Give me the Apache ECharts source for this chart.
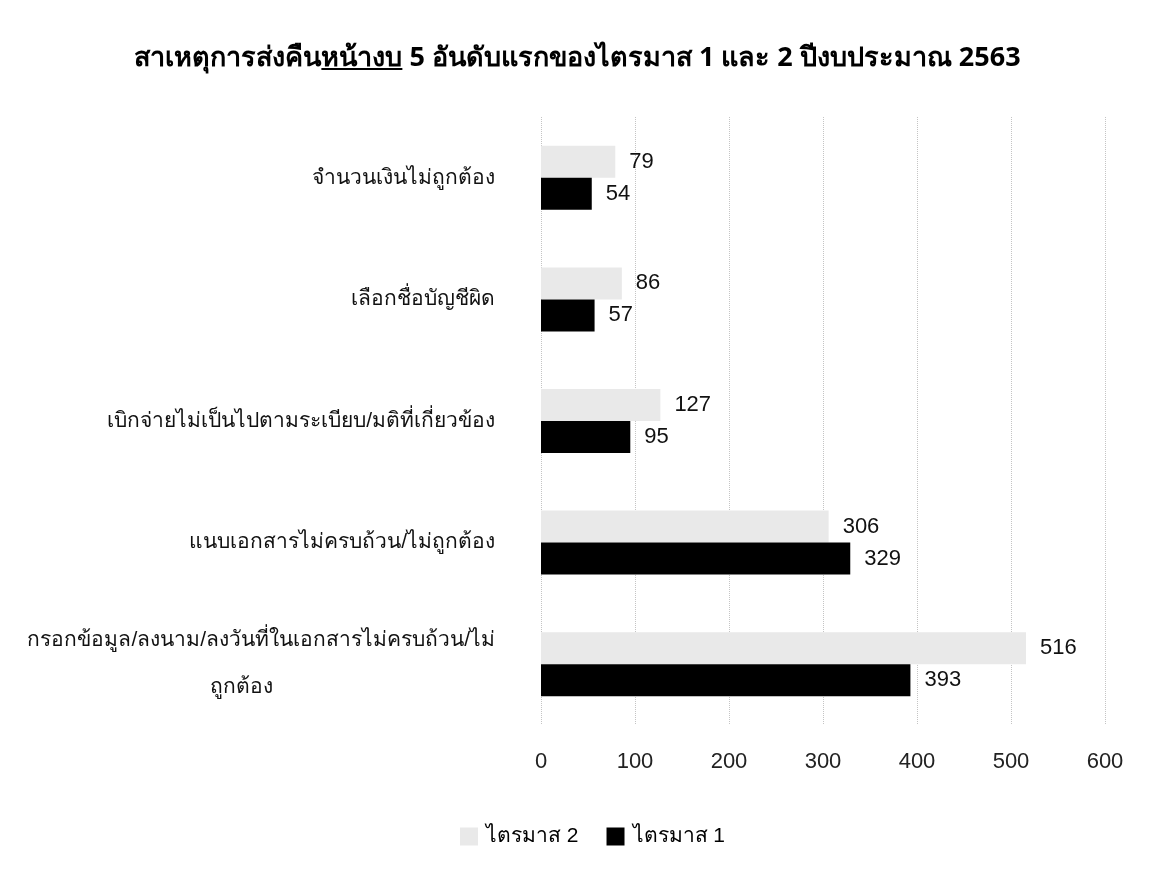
<!DOCTYPE html>
<html>
<head>
<meta charset="utf-8">
<script src="https://cdn.jsdelivr.net/npm/echarts@6/dist/echarts.min.js"></script>
<style>
  html, body { margin: 0; padding: 0; background: #fff; }
  #chart { width: 1155px; height: 874px; }
</style>
</head>
<body>
<div id="chart"></div>
<script>
// ข้อมูลจากภาพ
const categories = [
  'จำนวนเงินไม่ถูกต้อง',
  'เลือกชื่อบัญชีผิด',
  'เบิกจ่ายไม่เป็นไปตามระเบียบ/มติที่เกี่ยวข้อง',
  'แนบเอกสารไม่ครบถ้วน/ไม่ถูกต้อง',
  'กรอกข้อมูล/ลงนาม/ลงวันที่ในเอกสารไม่ครบถ้วน/ไม่\nถูกต้อง'
];
const q2Values = [79, 86, 127, 306, 516];
const q1Values = [54, 57, 95, 329, 393];
const seriesNames = ['ไตรมาส 2', 'ไตรมาส 1'];
const xTicks = [0, 100, 200, 300, 400, 500, 600];

const TITLE_FONT = '"Noto Sans", "DejaVu Sans", sans-serif';
const FONT = '"Liberation Sans", "Noto Sans", sans-serif';

const chart = echarts.init(document.getElementById('chart'));

const option = {
  backgroundColor: '#fff',
  animation: false,
  textStyle: { fontFamily: FONT },
  title: {
    text: '{a|สาเหตุการส่งคืนหน้างบ 5 อันดับแรกของไตรมาส 1 และ 2 ปีงบประมาณ 2563}',
    left: 'center',
    top: 40,
    textStyle: {
      rich: {
        a: { fontSize: 27, fontWeight: 'bold', color: '#000', fontFamily: TITLE_FONT }
      }
    }
  },
  legend: {
    top: 821,
    left: 455,
    itemWidth: 18,
    itemHeight: 18,
    itemGap: 28,
    icon: 'rect',
    textStyle: { fontSize: 21, color: '#000', fontFamily: FONT, padding: [0, 0, 0, 3] },
    data: seriesNames
  },
  grid: {
    left: 541,
    right: 50,
    top: 117,
    bottom: 149,
    containLabel: false
  },
  xAxis: {
    type: 'value',
    min: xTicks[0],
    max: xTicks[xTicks.length - 1],
    interval: 100,
    axisLine: { show: false },
    axisTick: { show: false },
    axisLabel: { fontSize: 22, color: '#222', margin: 26, fontFamily: FONT },
    splitLine: { show: true, lineStyle: { color: '#c4c4c4', type: 'dotted', width: 1 } }
  },
  yAxis: {
    type: 'category',
    inverse: true,
    data: categories,
    axisLine: { show: false },
    axisTick: { show: false },
    axisLabel: {
      margin: 46,
      fontSize: 21,
      color: '#111',
      fontFamily: FONT,
      formatter: function (v) {
        if (v.indexOf('\n') >= 0) {
          const parts = v.split('\n');
          return '{t|' + parts[0] + '}\n{c|' + parts[1] + '}';
        }
        return '{t|' + v + '}';
      },
      rich: {
        t: { fontSize: 21, color: '#111', fontFamily: FONT, lineHeight: 47 },
        c: { fontSize: 21, color: '#111', fontFamily: FONT, lineHeight: 47, padding: [0, 222, 0, 0] }
      }
    }
  },
  series: [
    {
      name: seriesNames[0],
      type: 'bar',
      data: q2Values,
      barWidth: 32,
      barGap: '0%',
      itemStyle: { color: '#e9e9e9' },
      label: { show: true, position: 'right', distance: 14, fontSize: 22, color: '#111', fontFamily: FONT }
    },
    {
      name: seriesNames[1],
      type: 'bar',
      data: q1Values,
      barWidth: 32,
      barGap: '0%',
      itemStyle: { color: '#000' },
      label: { show: true, position: 'right', distance: 14, fontSize: 22, color: '#111', fontFamily: FONT }
    }
  ]
};

chart.setOption(option);

// ขีดเส้นใต้คำว่า "หน้างบ" ในชื่อกราฟ
(function () {
  const ctx = document.createElement('canvas').getContext('2d');
  ctx.font = 'bold 27px ' + TITLE_FONT;
  const pre = ctx.measureText('สาเหตุการส่งคืน').width;
  const mid = ctx.measureText('หน้างบ').width;
  const full = ctx.measureText('สาเหตุการส่งคืนหน้างบ 5 อันดับแรกของไตรมาส 1 และ 2 ปีงบประมาณ 2563').width;
  const x0 = (1155 - full) / 2 + pre;
  chart.setOption({
    graphic: [{
      type: 'line',
      shape: { x1: x0, y1: 69, x2: x0 + mid, y2: 69 },
      style: { stroke: '#000', lineWidth: 2 }
    }]
  });
})();
</script>
</body>
</html>
